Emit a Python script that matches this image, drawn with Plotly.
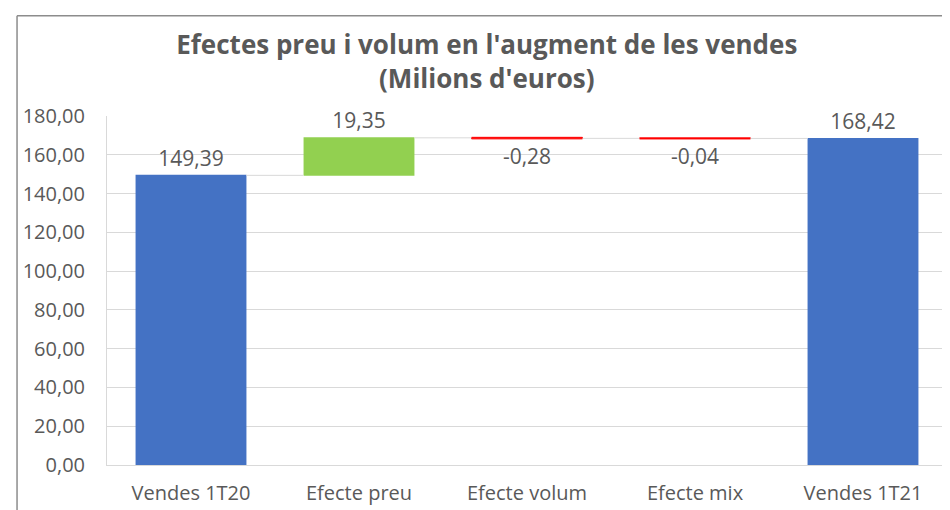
import plotly.graph_objects as go

categories = ["Vendes 1T20", "Efecte preu", "Efecte volum", "Efecte mix", "Vendes 1T21"]
values = [149.39, 19.35, -0.28, -0.04, 168.42]
measures = ["absolute", "relative", "relative", "relative", "total"]
labels = ["149,39", "19,35", "-0,28", "-0,04", "168,42"]
y_ticks = [0, 20, 40, 60, 80, 100, 120, 140, 160, 180]

grey_text = "#595959"
font_family = "Open Sans, Noto Sans, sans-serif"

fig = go.Figure()

fig.add_trace(go.Waterfall(
    x=categories,
    y=values,
    measure=measures,
    text=labels,
    textposition="outside",
    textfont=dict(size=21, color=grey_text, family=font_family),
    increasing=dict(marker=dict(color="#92D050", line=dict(width=0))),
    decreasing=dict(marker=dict(color="#FF0000", line=dict(color="#FF0000", width=1))),
    totals=dict(marker=dict(color="#4472C4", line=dict(width=0))),
    connector=dict(mode="between", line=dict(color="#D9D9D9", width=1)),
    cliponaxis=False,
    showlegend=False,
))

fig.update_layout(
    width=950,
    height=510,
    separators=",.",
    paper_bgcolor="white",
    plot_bgcolor="white",
    margin=dict(l=99, r=11, t=108, b=53),
    waterfallgap=0.34,
    font=dict(family=font_family, color=grey_text, size=18),
    title=dict(
        text="<b>Efectes preu i volum en l'augment de les vendes<br>(Milions d'euros)</b>",
        x=0.504,
        xanchor="center",
        y=0.909,
        yanchor="middle",
        font=dict(size=26, color=grey_text, family=font_family),
    ),
    xaxis=dict(
        showgrid=False,
        showline=True,
        linecolor="#D9D9D9",
        linewidth=1,
        ticks="",
        ticklabelstandoff=10,
        tickfont=dict(size=20, color=grey_text),
    ),
    yaxis=dict(
        range=[0, 180],
        tickvals=y_ticks,
        tickformat=".2f",
        showgrid=True,
        gridcolor="#D9D9D9",
        gridwidth=1,
        zeroline=False,
        showline=True,
        linecolor="#D9D9D9",
        linewidth=1,
        ticks="",
        ticklabelstandoff=17,
        tickfont=dict(size=20, color=grey_text),
    ),
    shapes=[
        # chart frame (left and top edges visible)
        dict(type="line", xref="paper", yref="paper", x0=-0.1071, x1=-0.1071, y0=-0.3, y1=1.287,
             line=dict(color="#8C8C8C", width=1.5)),
        dict(type="line", xref="paper", yref="paper", x0=-0.1071, x1=1.1, y0=1.287, y1=1.287,
             line=dict(color="#8C8C8C", width=1.5)),
    ],
)

fig.write_html("out.html")
